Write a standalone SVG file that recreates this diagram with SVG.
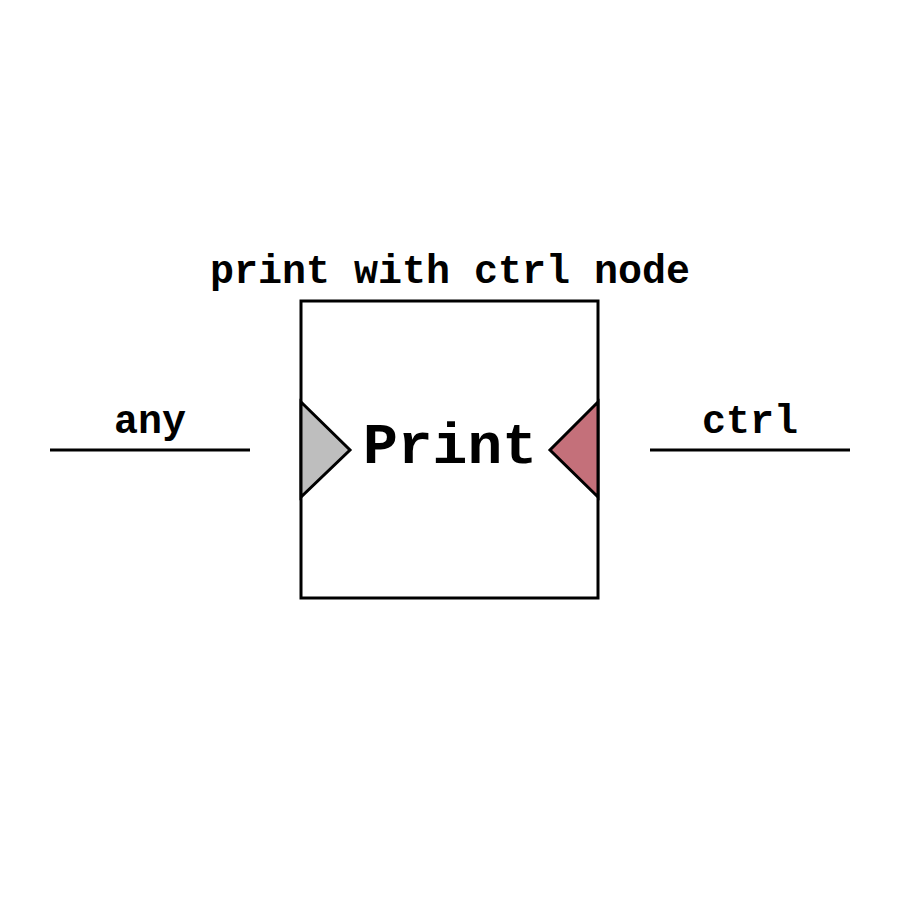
<svg xmlns="http://www.w3.org/2000/svg" width="900" height="900" viewBox="0 0 900 900">
<style>
.t{font-family:"Liberation Mono","Courier New",monospace;font-weight:bold;fill:#000;text-anchor:middle}
.s{stroke:#000;stroke-width:3;stroke-linejoin:miter}
</style>
<rect width="900" height="900" fill="#fff"/>
<g id="node-print">
<text class="t" x="450" y="283" font-size="40">print with ctrl node</text>
<rect class="s" x="301" y="301" width="297" height="297" fill="#fff"/>
<polygon class="s" points="301,402 350,450 301,497" fill="#bebebe"/>
<polygon class="s" points="598,402 550,450 598,497" fill="#c4707a"/>
<text class="t" x="450" y="463" font-size="58">Print</text>
</g>
<g id="connectors">
<line class="s" x1="50" y1="450" x2="250" y2="450"/>
<text class="t" x="150" y="433" font-size="40">any</text>
<line class="s" x1="650" y1="450" x2="850" y2="450"/>
<text class="t" x="750" y="433" font-size="40">ctrl</text>
</g>
</svg>
